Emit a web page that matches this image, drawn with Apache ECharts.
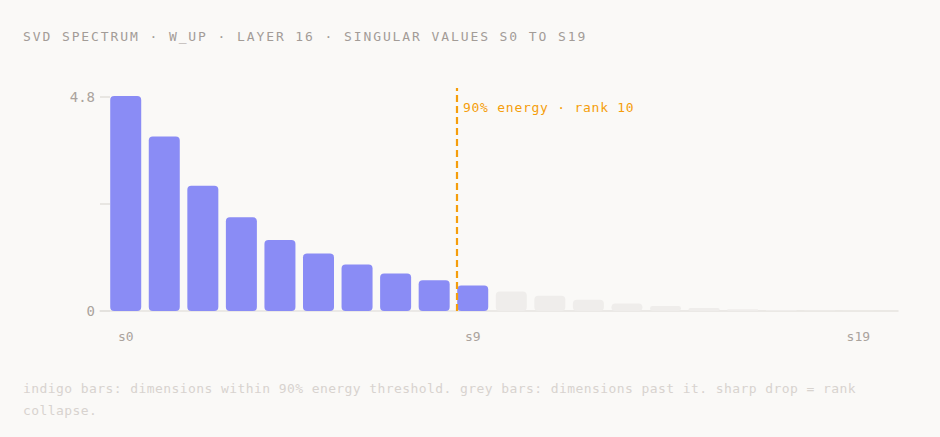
<!DOCTYPE html>
<html>
<head>
<meta charset="utf-8">
<script src="https://cdn.jsdelivr.net/npm/echarts@6/dist/echarts.min.js"></script>
<style>
  html, body { margin: 0; padding: 0; background: #faf9f7; }
  #chart { width: 940px; height: 437px; }
</style>
</head>
<body>
<div id="chart"></div>
<script>
// singular values s0..s19
var labels = ['s0', 's1', 's2', 's3', 's4', 's5', 's6', 's7', 's8', 's9',
              's10', 's11', 's12', 's13', 's14', 's15', 's16', 's17', 's18', 's19'];
var values = [4.82, 3.91, 2.81, 2.10, 1.59, 1.29, 1.04, 0.84, 0.69, 0.57,
              0.44, 0.34, 0.25, 0.17, 0.11, 0.07, 0.04, 0.02, 0.01, 0.005];
var rank = 10;                 // dims inside 90% energy
var yTicks = [0, 2.4, 4.8];
var yLabels = [0, 4.8];
var xLabels = [0, 9, 19];

var mono = '"DejaVu Sans Mono", "Liberation Mono", monospace';

var chart = echarts.init(document.getElementById('chart'), null, { renderer: 'svg' });

var barData = values.map(function (v, i) {
  return {
    name: labels[i],
    value: [i, v],
    itemStyle: { color: i < rank ? '#8a8cf5' : '#efedeb' }
  };
});

var option = {
  backgroundColor: '#faf9f7',
  animation: false,
  title: [{
    text: 'SVD SPECTRUM · W_UP · LAYER 16 · SINGULAR VALUES S0 TO S19',
    left: 23,
    top: 30,
    padding: 0,
    textStyle: {
      fontFamily: mono,
      fontSize: 13,
      fontWeight: 'normal',
      color: '#a39c97'
    }
  }, {
    text: 'indigo bars: dimensions within 90% energy threshold. grey bars: dimensions past it. sharp drop = rank collapse.',
    left: 23,
    top: 377,
    padding: 0,
    textStyle: {
      fontFamily: mono,
      fontSize: 13,
      fontWeight: 'normal',
      color: '#d8d3cf',
      lineHeight: 22,
      width: 820,
      overflow: 'break'
    }
  }],
  grid: { left: 100, right: 42, top: 88, bottom: 126 },
  xAxis: {
    type: 'value',
    min: -0.667,
    max: 20.03,
    splitLine: { show: false },
    axisTick: { show: false },
    axisLine: { show: true, lineStyle: { color: '#e6e3e0', width: 1.5 } },
    axisLabel: {
      customValues: xLabels,
      formatter: function (v) { return labels[v]; },
      margin: 19,
      fontFamily: mono,
      fontSize: 13,
      color: '#aaa39d'
    }
  },
  yAxis: {
    type: 'value',
    min: 0,
    max: 5,
    splitLine: { show: false },
    // keep the axis at the grid edge, not at x = 0
    axisLine: { show: false, onZero: false },
    axisTick: {
      show: true,
      inside: true,
      length: 10,
      customValues: yTicks,
      lineStyle: { color: '#e2dfdb', width: 1.5 }
    },
    axisLabel: {
      customValues: yLabels,
      margin: 5,
      fontFamily: mono,
      fontSize: 14,
      color: '#aaa39d'
    }
  },
  series: [{
    type: 'bar',
    barWidth: 31,
    data: barData,
    itemStyle: { borderRadius: 4 },
    markLine: {
      silent: true,
      symbol: 'none',
      label: { show: false },
      lineStyle: { color: '#f59e0b', type: [7, 4], width: 2.2 },
      data: [{ xAxis: 8.59 }]
    },
    markPoint: {
      silent: true,
      symbol: 'circle',
      symbolSize: 0,
      label: {
        show: true,
        position: 'right',
        distance: 6,
        formatter: '90% energy · rank ' + rank,
        fontFamily: mono,
        fontSize: 13,
        color: '#f59e0b'
      },
      data: [{ coord: [8.59, 4.56] }]
    }
  }]
};

chart.setOption(option);

// echarts has no letter-spacing option, so space the svg text afterwards
function spaceText() {
  var nodes = document.querySelectorAll('#chart text');
  nodes.forEach(function (el) {
    var t = el.textContent;
    if (t.indexOf('SVD SPECTRUM') === 0) el.style.letterSpacing = '1.9px';
    else if (t.indexOf('indigo') === 0 || t.indexOf('collapse') === 0) el.style.letterSpacing = '0.42px';
    else if (t.indexOf('energy') > 0) el.style.letterSpacing = '0.75px';
  });
}
chart.on('finished', spaceText);
spaceText();
</script>
</body>
</html>
